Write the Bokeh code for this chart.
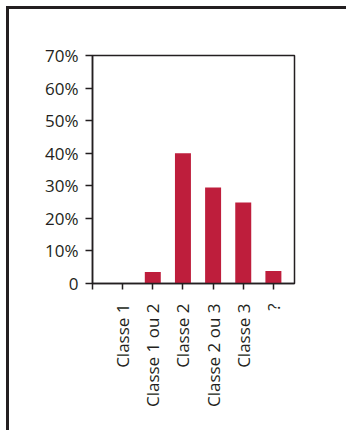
import math
from bokeh.plotting import figure
from bokeh.models import FixedTicker, Range1d
from bokeh.embed import file_html
from bokeh.resources import INLINE

categories = ["Classe 1", "Classe 1 ou 2", "Classe 2", "Classe 2 ou 3", "Classe 3", "?"]
values = [0, 3.5, 40.0, 29.5, 24.9, 3.8]
y_ticks = [0, 10, 20, 30, 40, 50, 60, 70]
y_tick_labels = ["0", "10%", "20%", "30%", "40%", "50%", "60%", "70%"]

FONT = "Open Sans"
INK = "#231f20"
BAR = "#be1e3c"

xs = list(range(1, len(categories) + 1))

p = figure(width=340, height=424, output_backend="svg", toolbar_location=None,
           x_range=Range1d(0, 6.7), y_range=Range1d(0, 70),
           min_border_left=83, min_border_right=55, min_border_top=46, min_border_bottom=150)
p.styles = {"border-left": "3px solid #231f20", "border-top": "3px solid #231f20",
            "margin-left": "6px", "margin-top": "6px"}

p.vbar(x=xs, top=values, width=0.53, color=BAR, line_color=None)

p.grid.visible = False
p.outline_line_color = INK
p.outline_line_width = 1.5
p.outline_line_alpha = 1

p.xaxis.ticker = FixedTicker(ticks=[0] + xs)
p.xaxis.major_label_overrides = {0: ""} | {x: c for x, c in zip(xs, categories)}
p.xaxis.major_label_orientation = math.pi / 2
p.yaxis.ticker = FixedTicker(ticks=y_ticks)
p.yaxis.major_label_overrides = {t: l for t, l in zip(y_ticks, y_tick_labels)}

for ax in (p.xaxis, p.yaxis):
    ax.axis_line_color = INK
    ax.axis_line_width = 1.5
    ax.major_tick_line_color = INK
    ax.major_tick_line_width = 1.5
    ax.major_tick_in = 0
    ax.minor_tick_line_color = None
    ax.major_label_text_font = FONT
    ax.major_label_text_font_size = "17px"
    ax.major_label_text_color = INK
p.xaxis.major_tick_out = 6
p.yaxis.major_tick_out = 7
p.yaxis.major_label_standoff = 7
p.xaxis.major_label_standoff = 14

open("out.html", "w").write(file_html(p, INLINE))
